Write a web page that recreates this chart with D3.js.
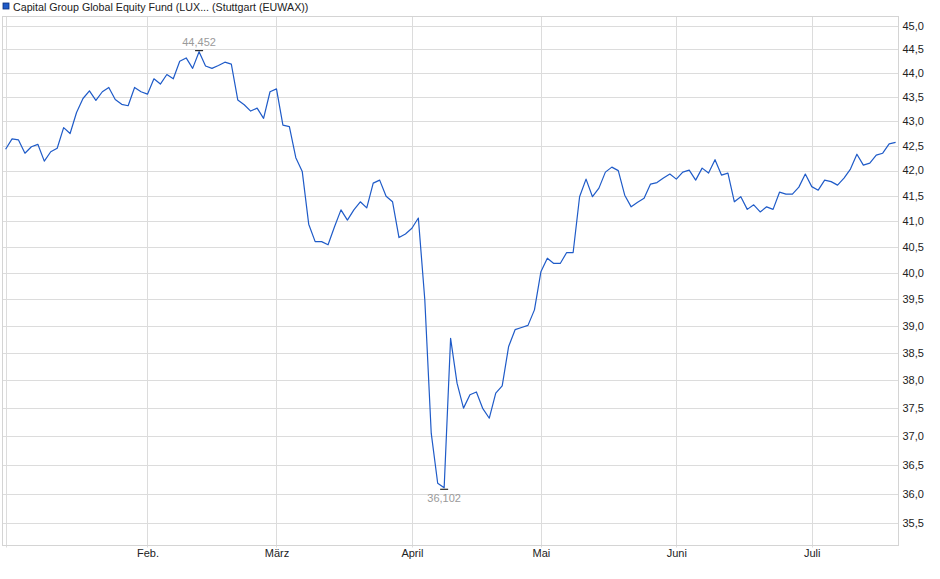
<!DOCTYPE html>
<html>
<head>
<meta charset="utf-8">
<script src="https://cdn.jsdelivr.net/npm/d3@7"></script>
<style>
  body { margin: 0; background: #fff; }
  svg { display: block; font-family: "Liberation Sans", Arial, sans-serif; }
</style>
</head>
<body>
<div id="chart"></div>
<script>
const title = "Capital Group Global Equity Fund (LUX... (Stuttgart (EUWAX))";

// one value per trading day, 2 Jan .. mid July
const prices = [
  42.43, 42.64, 42.62, 42.35, 42.48, 42.53, 42.19, 42.38, 42.45, 42.87,
  42.75, 43.18, 43.47, 43.63, 43.43, 43.61, 43.70, 43.45, 43.35, 43.32,
  43.70, 43.61, 43.56, 43.88, 43.77, 43.97, 43.88, 44.25, 44.32, 44.10,
  44.452, 44.15, 44.10, 44.16, 44.23, 44.19, 43.44, 43.34, 43.21, 43.27,
  43.06, 43.61, 43.67, 42.92, 42.89, 42.26, 41.98, 40.94, 40.60, 40.60,
  40.54, 40.89, 41.22, 41.02, 41.22, 41.38, 41.26, 41.75, 41.81, 41.49,
  41.38, 40.68, 40.75, 40.86, 41.06, 39.49, 37.05, 36.18, 36.102, 38.77,
  37.95, 37.50, 37.74, 37.79, 37.49, 37.32, 37.77, 37.90, 38.62, 38.93,
  38.97, 39.01, 39.30, 40.02, 40.28, 40.18, 40.18, 40.39, 40.39, 41.48,
  41.83, 41.48, 41.65, 41.97, 42.07, 42.00, 41.51, 41.28, 41.37, 41.45,
  41.73, 41.76, 41.85, 41.93, 41.83, 41.97, 42.01, 41.81, 42.05, 41.95,
  42.22, 41.91, 41.95, 41.38, 41.48, 41.23, 41.32, 41.18, 41.28, 41.23,
  41.57, 41.53, 41.53, 41.67, 41.93, 41.68, 41.61, 41.81, 41.78, 41.71,
  41.85, 42.03, 42.33, 42.11, 42.15, 42.31, 42.35, 42.54, 42.57
];

// first trading day of each month (index into prices)
const monthStart = [0, 22, 42, 63, 83, 104, 125];
const monthLabel = ["", "Feb.", "März", "April", "Mai", "Juni", "Juli"];

const yTicks = d3.range(35.5, 45.01, 0.5);

const width = 940, height = 579;
const frame = {left: 2.5, right: 898.5, top: 16.5, bottom: 545.5};

const de = d3.formatLocale({decimal: ",", thousands: ".", grouping: [3], currency: ["", " €"]});
const fmtTick = de.format(".1f");
const fmtVal = de.format(".3f");

const x = d3.scaleLinear().domain([0, prices.length - 1]).range([5.6, 895.6]);
const y = d3.scaleLog().domain([35.5, 45]).range([523, 26]);

const svg = d3.select("#chart")
  .append("svg")
  .attr("width", width)
  .attr("height", height);

// horizontal grid
svg.append("g")
  .selectAll("line")
  .data(yTicks)
  .join("line")
  .attr("x1", frame.left)
  .attr("x2", frame.right)
  .attr("y1", d => Math.round(y(d)) + 0.5)
  .attr("y2", d => Math.round(y(d)) + 0.5)
  .attr("stroke", "#dcdcdc");

// month grid + small ticks below the frame
svg.append("g")
  .selectAll("line")
  .data(monthStart)
  .join("line")
  .attr("x1", d => Math.round(x(d)) + 0.5)
  .attr("x2", d => Math.round(x(d)) + 0.5)
  .attr("y1", frame.top)
  .attr("y2", frame.bottom + 2)
  .attr("stroke", "#dcdcdc");

// frame
svg.append("rect")
  .attr("x", frame.left)
  .attr("y", frame.top)
  .attr("width", frame.right - frame.left)
  .attr("height", frame.bottom - frame.top)
  .attr("fill", "none")
  .attr("stroke", "#d4d4d4");

// y labels on the right
svg.append("g")
  .selectAll("text")
  .data(yTicks)
  .join("text")
  .attr("x", frame.right + 4)
  .attr("y", d => y(d))
  .attr("dy", "0.35em")
  .attr("font-size", 11)
  .attr("fill", "#222")
  .text(d => fmtTick(d));

// month labels
svg.append("g")
  .selectAll("text")
  .data(monthStart.map((d, i) => ({i: d, label: monthLabel[i]})).filter(d => d.label))
  .join("text")
  .attr("x", d => x(d.i) + 0.5)
  .attr("y", 557)
  .attr("text-anchor", "middle")
  .attr("font-size", 11)
  .attr("fill", "#222")
  .text(d => d.label);

// price line
const line = d3.line()
  .x((d, i) => x(i))
  .y(d => y(d));

svg.append("path")
  .datum(prices)
  .attr("fill", "none")
  .attr("stroke", "#1f5bc8")
  .attr("stroke-width", 1.2)
  .attr("stroke-linejoin", "round")
  .attr("d", line);

// high / low markers
const hi = d3.maxIndex(prices), lo = d3.minIndex(prices);

svg.append("line")
  .attr("x1", x(hi) - 4).attr("x2", x(hi) + 4)
  .attr("y1", y(prices[hi]) - 1).attr("y2", y(prices[hi]) - 1)
  .attr("stroke", "#000");
svg.append("text")
  .attr("x", x(hi))
  .attr("y", y(prices[hi]) - 5.5)
  .attr("text-anchor", "middle")
  .attr("font-size", 11)
  .attr("fill", "#9a9a9a")
  .text(fmtVal(prices[hi]));

svg.append("line")
  .attr("x1", x(lo) - 4).attr("x2", x(lo) + 4)
  .attr("y1", y(prices[lo]) + 1.5).attr("y2", y(prices[lo]) + 1.5)
  .attr("stroke", "#000");
svg.append("text")
  .attr("x", x(lo))
  .attr("y", y(prices[lo]) + 14)
  .attr("text-anchor", "middle")
  .attr("font-size", 11)
  .attr("fill", "#9a9a9a")
  .text(fmtVal(prices[lo]));

// legend
svg.append("rect")
  .attr("x", 3).attr("y", 3)
  .attr("width", 6).attr("height", 6)
  .attr("fill", "#1f5bc8")
  .attr("stroke", "#0b2f7a")
  .attr("stroke-width", 0.8);
svg.append("text")
  .attr("x", 13)
  .attr("y", 11)
  .attr("font-size", 10.7)
  .attr("fill", "#222")
  .text(title);
</script>
</body>
</html>
